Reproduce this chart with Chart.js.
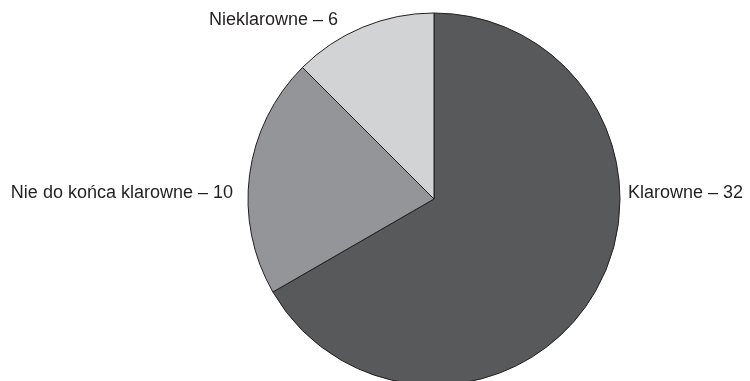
<!DOCTYPE html>
<html>
<head>
<meta charset="utf-8">
<script src="https://cdn.jsdelivr.net/npm/chart.js@4"></script>
<style>
  html, body { margin: 0; padding: 0; background: #ffffff; overflow: hidden; }
  #wrap { width: 750px; height: 381px; position: relative; }
</style>
</head>
<body>
<div id="wrap"><canvas id="c" width="750" height="381"></canvas></div>
<script>
const categories = ['Klarowne', 'Nie do końca klarowne', 'Nieklarowne'];
const values = [32, 10, 6];
const sliceColors = ['#58595b', '#939598', '#d1d3d4'];

// label placement relative to the pie: side and offsets (style only)
const labelPlacement = [
  { align: 'left',  dx: (r) => r + 8,   dy: (r) => -6 },
  { align: 'right', dx: (r) => -r - 15, dy: (r) => -6 },
  { align: 'right', dx: (r) => -96,     dy: (r) => -r + 7 }
];

const outsideLabels = {
  id: 'outsideLabels',
  afterDatasetsDraw(chart) {
    const meta = chart.getDatasetMeta(0);
    const ctx = chart.ctx;
    ctx.save();
    ctx.font = '18px "Liberation Sans", Arial, sans-serif';
    ctx.fillStyle = '#231f20';
    ctx.textBaseline = 'middle';
    meta.data.forEach((arc, i) => {
      const r = arc.outerRadius;
      const p = labelPlacement[i];
      ctx.textAlign = p.align;
      ctx.fillText(categories[i] + ' – ' + values[i], arc.x + p.dx(r), arc.y + p.dy(r));
    });
    ctx.restore();
  }
};

new Chart(document.getElementById('c'), {
  type: 'pie',
  data: {
    labels: categories,
    datasets: [{
      data: values,
      backgroundColor: sliceColors,
      borderColor: '#231f20',
      borderWidth: 1,
      borderAlign: 'center'
    }]
  },
  options: {
    responsive: false,
    animation: false,
    devicePixelRatio: 1,
    radius: 186,
    layout: { padding: { left: 118, right: 0, top: 17, bottom: 0 } },
    plugins: {
      legend: { display: false },
      tooltip: { enabled: false }
    }
  },
  plugins: [outsideLabels]
});
</script>
</body>
</html>
